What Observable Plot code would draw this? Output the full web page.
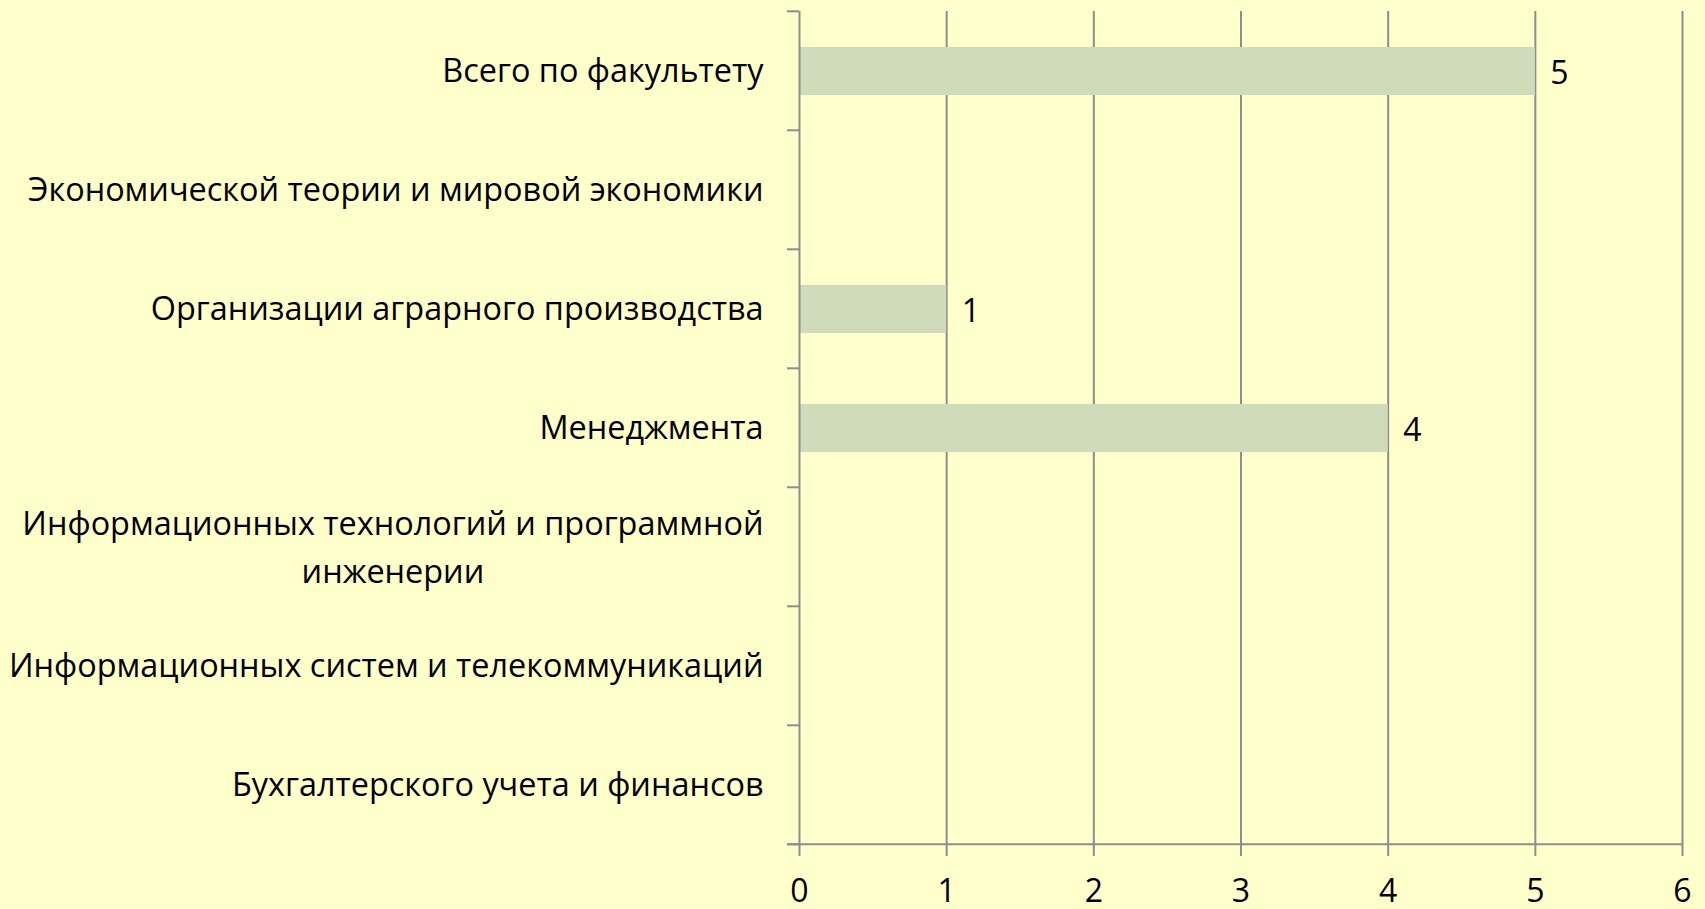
<!DOCTYPE html>
<html><head><meta charset="utf-8">
<script src="https://cdn.jsdelivr.net/npm/d3@7"></script>
<script src="https://cdn.jsdelivr.net/npm/@observablehq/plot@0.6"></script>
<style>
html,body{margin:0;padding:0;background:#ffffcc;}
#chart svg{display:block;}
</style>
</head><body><div id="chart"></div>
<script>
const categories = [
  "Всего по факультету",
  "Экономической теории и мировой экономики",
  "Организации аграрного производства",
  "Менеджмента",
  "Информационных технологий и программной\nинженерии",
  "Информационных систем и телекоммуникаций",
  "Бухгалтерского учета и финансов"
];
const values = [5, null, 1, 4, null, null, null];
const xTicks = [0, 1, 2, 3, 4, 5, 6];

const data = categories.map((c, i) => ({category: c, value: values[i]}));
const barData = data.filter(d => d.value != null);
const singleLine = data.filter(d => !d.category.includes("\n"));
const multiLine = data.filter(d => d.category.includes("\n"));

const gridColor = "#8e8e8e";
const fontFamily = "'Open Sans', sans-serif";
const labelSize = 32.4;
const labelGap = 36;

const ctx = document.createElement("canvas").getContext("2d");
ctx.font = `${labelSize}px 'Open Sans'`;
function blockWidth(s) { return Math.max(...s.split("\n").map(l => ctx.measureText(l).width)); }

const boundaryTicks = (index, scales, values, dimensions) => {
  const y = scales.y, x = scales.x;
  const ys = categories.map(c => y(c));
  const step = ys[1] - ys[0];
  const off = step * 0.3;
  const bounds = ys.map(v => v - off);
  bounds.push(bounds[bounds.length - 1] + step);
  const x0 = x(0);
  const g = d3.create("svg:g").attr("stroke", gridColor).attr("stroke-width", 2);
  g.selectAll("line.t").data(bounds).join("line")
    .attr("x1", x0 - 12).attr("x2", x0).attr("y1", d => d).attr("y2", d => d);
  const yb = bounds[bounds.length - 1];
  g.append("line").attr("x1", x0 - 12).attr("x2", x(xTicks[xTicks.length - 1]))
    .attr("y1", yb).attr("y2", yb);
  return g.node();
};

const plot = Plot.plot({
  width: 1705,
  height: 909,
  marginLeft: 799,
  marginRight: 23,
  marginTop: 11,
  marginBottom: 64,
  style: {background: "#ffffcc", fontFamily, color: "#000", overflow: "visible"},
  x: {domain: [0, 6]},
  y: {domain: categories, paddingInner: 0.6, paddingOuter: 0.3, axis: null},
  marks: [
    Plot.ruleX(xTicks.slice(1), {stroke: gridColor, strokeWidth: 2}),
    Plot.barX(barData, {x: "value", y: "category", fill: "#cfdbba"}),
    Plot.ruleX([0], {stroke: gridColor, strokeWidth: 2}),
    boundaryTicks,
    Plot.axisX({ticks: xTicks, tickFormat: d3.format("d"), label: null, tickSize: 11, tickPadding: 23, stroke: gridColor, strokeWidth: 2, fontSize: 32, fill: "#000"}),
    Plot.text(singleLine, {frameAnchor: "left", y: "category", text: "category", textAnchor: "end", dx: -labelGap, fontSize: labelSize, fill: "#000"}),
    Plot.text(multiLine, {frameAnchor: "left", y: "category", text: "category", textAnchor: "middle", dx: -labelGap - blockWidth(multiLine[0].category) / 2, dy: -4, lineHeight: 1.5, fontSize: labelSize, fill: "#000"}),
    Plot.text(barData, {x: "value", y: "category", text: d => String(d.value), textAnchor: "start", dx: 15, dy: 2, fontSize: 32, fill: "#000"})
  ]
});
document.getElementById("chart").append(plot);
</script>
</body></html>
